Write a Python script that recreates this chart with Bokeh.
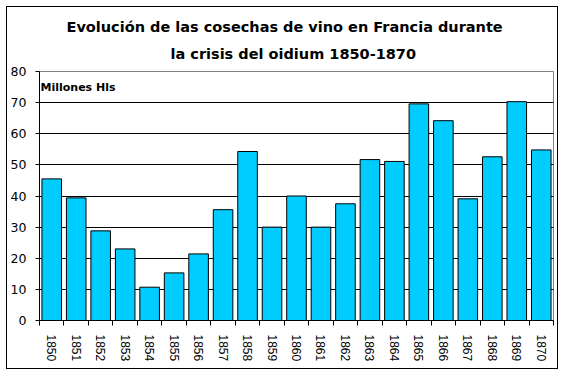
from bokeh.plotting import figure
from bokeh.models import FixedTicker, Title, Label, ColumnDataSource, Range1d
from bokeh.embed import file_html
from bokeh.resources import INLINE

years = ["1850", "1851", "1852", "1853", "1854", "1855", "1856", "1857", "1858", "1859",
         "1860", "1861", "1862", "1863", "1864", "1865", "1866", "1867", "1868", "1869", "1870"]
harvest = [45.5, 39.4, 28.8, 23.0, 10.7, 15.3, 21.4, 35.6, 54.3, 30.0,
           40.0, 30.0, 37.5, 51.7, 51.1, 69.6, 64.2, 39.1, 52.6, 70.3, 54.8]
y_ticks = [0, 10, 20, 30, 40, 50, 60, 70, 80]
title_line1 = "Evolución de las cosechas de vino en Francia durante"
title_line2 = "la crisis del oidium 1850-1870"
unit_label = "Millones Hls"

n = len(years)
xpos = list(range(1, n + 1))
source = ColumnDataSource(dict(x=xpos, top=harvest, year=years))

TFONT = "DejaVu Sans"
AFONT = "Liberation Sans"

p = figure(width=552, height=363, output_backend="svg", toolbar_location=None,
           x_range=Range1d(0.5, n + 0.5), y_range=Range1d(y_ticks[0], y_ticks[-1]),
           min_border_left=29, min_border_right=6, min_border_top=64, min_border_bottom=50,
           background_fill_color="white", border_fill_color="white")
p.styles = {"border": "1px solid black", "margin": "6px"}

# title: line 1 (outer), line 2 (next to the frame)
p.title.text = title_line1
p.title.align = "left"
p.title.offset = 27
p.title.text_font = TFONT
p.title.text_font_size = "14.5px"
p.title.text_font_style = "bold"
p.title.text_color = "black"
p.title.standoff = -2
t2 = Title(text=title_line2, align="left", offset=131, text_font=TFONT,
           text_font_size="14.5px", text_font_style="bold", text_color="black",
           standoff=20)
p.add_layout(t2, "above")

p.vbar(x="x", top="top", width=0.8, source=source, fill_color="#00CCFF",
       line_color="black", line_width=1)

# y axis
p.yaxis.ticker = FixedTicker(ticks=y_ticks)
p.yaxis.major_tick_in = 0
p.yaxis.major_tick_out = 4
p.yaxis.minor_tick_line_color = None
p.yaxis.axis_line_color = "black"
p.yaxis.major_tick_line_color = "black"
p.yaxis.major_label_standoff = 9
p.yaxis.major_label_text_font = TFONT
p.yaxis.major_label_text_font_size = "12.5px"
p.yaxis.major_label_text_color = "black"

# x axis: labels at bar centres, tick marks between categories
p.xaxis.ticker = FixedTicker(ticks=xpos, minor_ticks=[i + 0.5 for i in range(n + 1)])
p.xaxis.major_label_overrides = {x: y for x, y in zip(xpos, years)}
p.xaxis.major_tick_line_color = None
p.xaxis.major_tick_in = 0
p.xaxis.major_tick_out = 0
p.xaxis.minor_tick_in = 0
p.xaxis.minor_tick_out = 5
p.xaxis.minor_tick_line_color = "black"
p.xaxis.axis_line_color = "black"
p.xaxis.major_label_orientation = "vertical"
p.xaxis.major_label_standoff = 9
p.xaxis.major_label_text_font = AFONT
p.xaxis.major_label_text_font_size = "12px"
p.xaxis.major_label_text_color = "black"

# grid
p.xgrid.visible = False
p.ygrid.ticker = FixedTicker(ticks=y_ticks[1:-1])
p.ygrid.grid_line_color = "black"
p.ygrid.grid_line_alpha = 1.0
p.outline_line_color = "#808080"

lbl = Label(x=0.5, y=74.7, text=unit_label, text_font=TFONT, text_font_size="11px",
            text_font_style="bold", text_color="black", text_baseline="alphabetic",
            text_align="left", x_offset=1)
p.add_layout(lbl)

open("out.html", "w").write(file_html(p, INLINE))
